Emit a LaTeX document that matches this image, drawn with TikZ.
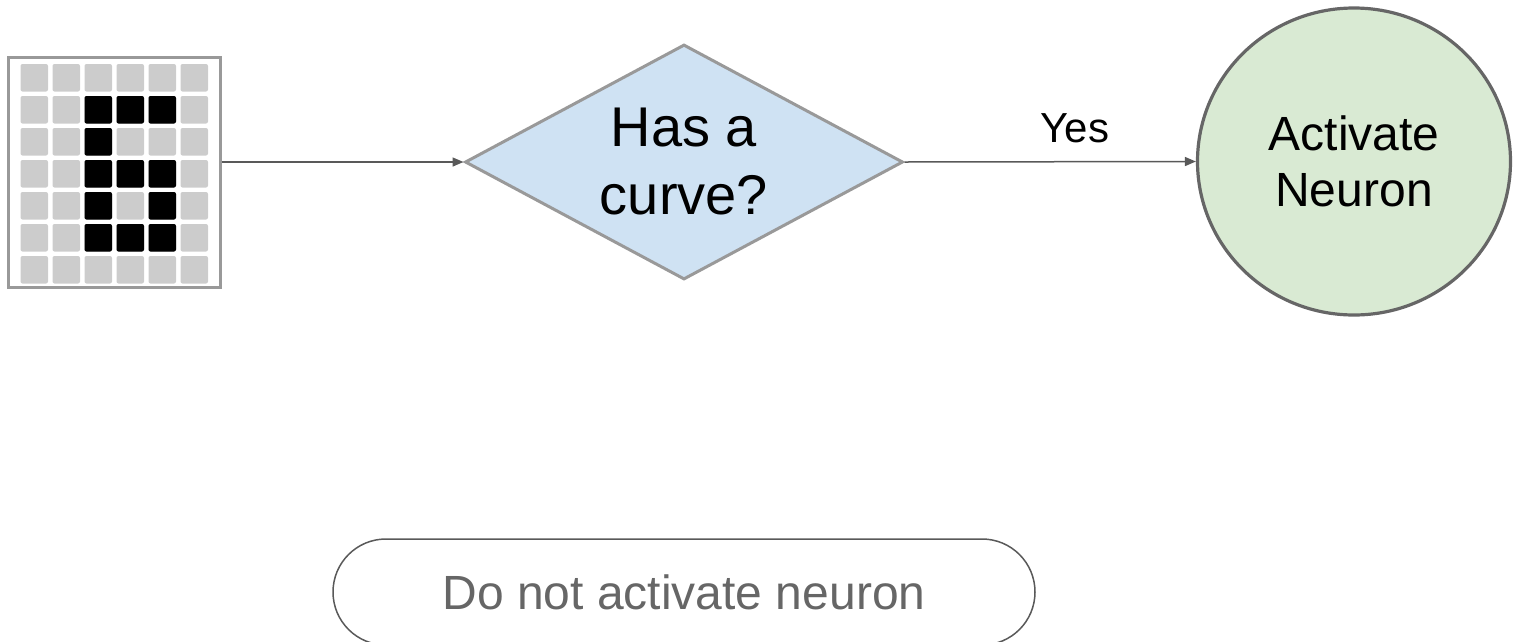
\documentclass[tikz,border=0pt]{standalone}
\usepackage{fontspec}
\setmainfont{Liberation Sans}
\usetikzlibrary{shapes.geometric,arrows.meta}

\definecolor{cellgray}{HTML}{CCCCCC}
\definecolor{framegray}{HTML}{999999}
\definecolor{linegray}{HTML}{595959}
\definecolor{decisionblue}{HTML}{CFE2F3}
\definecolor{neurongreen}{HTML}{D9EAD3}
\definecolor{circlegray}{HTML}{666666}
\definecolor{textgray}{HTML}{666666}

\tikzset{
  cell/.style={fill=cellgray, rounded corners=2pt},
  oncell/.style={fill=black, rounded corners=2pt},
  imgframe/.style={draw=framegray, line width=3pt, minimum width=212pt, minimum height=230pt, inner sep=0pt},
  decision/.style={diamond, draw=framegray, fill=decisionblue, line width=3pt,
    minimum width=438pt, minimum height=235pt, inner sep=0pt},
  decisiontext/.style={align=center, inner sep=0pt, font=\fontsize{56}{68}\selectfont},
  neuron/.style={ellipse, draw=circlegray, fill=neurongreen, line width=3.2pt,
    minimum width=313pt, minimum height=307pt, inner sep=0pt, align=center,
    font=\fontsize{48}{56}\selectfont},
  terminal/.style={draw=linegray, line width=1.5pt, rounded corners=53pt,
    minimum width=702pt, minimum height=106pt, inner sep=0pt,
    text=textgray, font=\fontsize{48}{56}\selectfont},
  conn/.style={draw=linegray, line width=1.5pt, -{Triangle[length=11pt,width=9pt]}},
  edgelabel/.style={font=\fontsize{42}{50}\selectfont}
}

\begin{document}
\begin{tikzpicture}[x=1pt, y=-1pt]
\useasboundingbox (0,0) rectangle (1513,641);

% pixel-grid input image
\node (img) [imgframe] at (114,172) {};
\foreach \r in {0,...,6}
  \foreach \c in {0,...,5}
    \fill[cell] ({20.5+32*\c},{64+32*\r}) rectangle ++(27.5,27.5);
\foreach \r/\c in {1/2,1/3,1/4,2/2,3/2,3/3,3/4,4/2,4/4,5/2,5/3,5/4}
  \fill[oncell] ({20.5+32*\c},{64+32*\r}) rectangle ++(27.5,27.5);

% decision and outcome
\node (q) [decision] at (684,162) {};
\node (qtext) [decisiontext] at (q.center) {Has a\\curve?};
\node (act) [neuron] at (1354,161.5) {Activate\\Neuron};
\node (no) [terminal] at (684,592) {Do not activate neuron};

% connectors
\draw[conn] (q.west -| img.east) -- (q.west);
\draw[conn] (q.east) -- node[edgelabel, pos=0.585, anchor=base, yshift=19pt] {Yes} (act.west);
\end{tikzpicture}
\end{document}
